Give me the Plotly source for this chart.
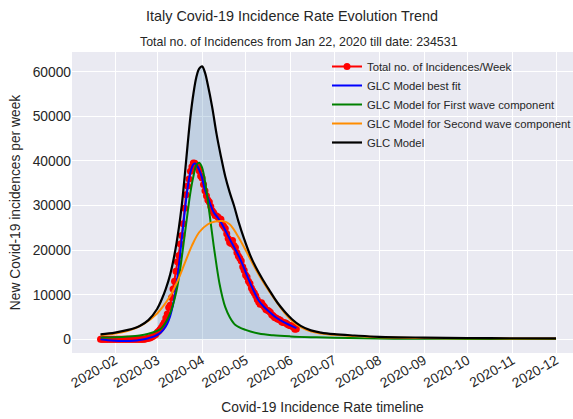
import plotly.graph_objects as go
import pandas as pd

# ---------------- text ----------------
main_title = "Italy Covid-19 Incidence Rate Evolution Trend"
sub_title = "Total no. of Incidences from Jan 22, 2020 till date: 234531"
x_title = "Covid-19 Incidence Rate timeline"
y_title = "New Covid-19 incidences per week"

# ---------------- observed data (weekly incidences, daily from Jan 22) ----------------
data_start = "2020-01-22"
weekly_incidences = [
    0, 0, 0, 0, 0, 0, 0, 0, 0,
    2, 2, 2, 2, 2, 2,
    3,
    1, 1, 1, 1, 1, 1,
    0, 0, 0, 0, 0, 0, 0, 0,
    17, 59, 152, 226, 319, 450, 652, 868, 1066,
    1539, 1807, 2180, 2636, 3203, 3748, 4755, 5681, 7136, 7647, 9373, 11255, 13024, 15274,
    17372, 18808, 21357, 23251, 25922, 29361, 32421, 34391, 35947, 37670, 38673, 39504,
    39477, 38894, 38551, 37812, 36616,
    36188, 34703, 33329, 32160, 31259, 30808, 29794, 28848, 28384, 27750, 27639, 27415,
    26969, 26902, 25733, 25315, 24857, 23654, 22609, 21712, 21469, 22172, 21032, 20560,
    19426, 18703, 18186, 17548, 16264, 15490,
    14434, 13977, 13042, 12524, 11508, 10866, 10395, 9757, 8940, 8353, 7876, 8203, 7647,
    7238, 6700, 6492, 6365, 6072, 5483, 5260, 4910, 4773, 4567, 4423, 4272, 3856, 3775,
    3726, 3590, 3337, 3161,
    3039, 2960, 2697, 2281, 2283,
]
data_dates = pd.date_range(data_start, periods=len(weekly_incidences), freq="D")

# ---------------- GLC model best fit ----------------
fit_dates = ["2020-01-22", "2020-01-27", "2020-02-01", "2020-02-06", "2020-02-11", "2020-02-16",
             "2020-02-20", "2020-02-24", "2020-02-28", "2020-03-02", "2020-03-05", "2020-03-08",
             "2020-03-10", "2020-03-12", "2020-03-14", "2020-03-16", "2020-03-18", "2020-03-20",
             "2020-03-22", "2020-03-24", "2020-03-26", "2020-03-27", "2020-03-28", "2020-03-30",
             "2020-04-01", "2020-04-03", "2020-04-06", "2020-04-09", "2020-04-12", "2020-04-15",
             "2020-04-18", "2020-04-21", "2020-04-24", "2020-04-27", "2020-04-30", "2020-05-03",
             "2020-05-06", "2020-05-10", "2020-05-14", "2020-05-18", "2020-05-22", "2020-05-27",
             "2020-06-01", "2020-06-05"]
fit_values = [0, -200, -330, -390, -370, -250,
              -50, 250, 650, 1150, 2000, 3500,
              5200, 7800, 11500, 16500, 22500, 28500,
              33800, 37500, 39200, 39400, 39200, 38000,
              36200, 33500, 30900, 28500, 27200, 25700,
              23800, 21900, 20100, 18200, 15900, 13500,
              11300, 8700, 7200, 6000, 4900, 3900,
              3100, 2500]

# ---------------- first wave component ----------------
wave1_dates = ["2020-01-22", "2020-02-01", "2020-02-10", "2020-02-18", "2020-02-24", "2020-03-01",
               "2020-03-04", "2020-03-07", "2020-03-10", "2020-03-12", "2020-03-14", "2020-03-16",
               "2020-03-18", "2020-03-20", "2020-03-22", "2020-03-24", "2020-03-26", "2020-03-28",
               "2020-03-30", "2020-04-01", "2020-04-03", "2020-04-05", "2020-04-07", "2020-04-09",
               "2020-04-11", "2020-04-13", "2020-04-15", "2020-04-17", "2020-04-20", "2020-04-24",
               "2020-05-01", "2020-05-10", "2020-05-20", "2020-06-01", "2020-06-15", "2020-07-01",
               "2020-08-01", "2020-09-01", "2020-10-01", "2020-11-01", "2020-12-01"]
wave1_values = [400, 450, 600, 850, 1250, 1900,
                2500, 3800, 5800, 7800, 10300, 13800,
                18300, 23300, 28300, 33000, 36500, 39000,
                39600, 38500, 35500, 31000, 26000, 21000,
                16500, 12500, 9500, 7200, 5000, 3200,
                2100, 1300, 900, 650, 480, 360,
                180, 120, 90, 70, 60]

# ---------------- second wave component ----------------
wave2_dates = ["2020-01-22", "2020-02-01", "2020-02-10", "2020-02-20", "2020-03-01", "2020-03-10",
               "2020-03-15", "2020-03-20", "2020-03-25", "2020-03-30", "2020-04-05", "2020-04-10",
               "2020-04-15", "2020-04-20", "2020-04-25", "2020-05-01", "2020-05-07", "2020-05-14",
               "2020-05-21", "2020-05-28", "2020-06-04", "2020-06-12", "2020-06-20", "2020-07-01",
               "2020-07-15", "2020-08-01", "2020-09-01", "2020-10-01", "2020-11-01", "2020-12-01"]
wave2_values = [900, 1300, 1900, 3300, 5800, 9700,
                13000, 17000, 21000, 24000, 25800, 26400,
                26500, 25800, 23500, 20000, 16300, 12400,
                9000, 5900, 3600, 2100, 1400, 1000,
                720, 470, 300, 235, 185, 155]

# ---------------- GLC model (total) ----------------
glc_dates = ["2020-01-22", "2020-02-01", "2020-02-10", "2020-02-18", "2020-02-24", "2020-03-01",
             "2020-03-04", "2020-03-07", "2020-03-10", "2020-03-13", "2020-03-16", "2020-03-18",
             "2020-03-20", "2020-03-22", "2020-03-24", "2020-03-26", "2020-03-28", "2020-03-30",
             "2020-04-01", "2020-04-03", "2020-04-05", "2020-04-08", "2020-04-11", "2020-04-14",
             "2020-04-17", "2020-04-20", "2020-04-23", "2020-04-26", "2020-04-30", "2020-05-04",
             "2020-05-08", "2020-05-13", "2020-05-18", "2020-05-23", "2020-05-28", "2020-06-02",
             "2020-06-08", "2020-06-15", "2020-06-22", "2020-07-01", "2020-07-15", "2020-08-01",
             "2020-09-01", "2020-10-01", "2020-11-01", "2020-12-01"]
glc_values = [1100, 1500, 2100, 3000, 4300, 6800,
              8800, 11300, 14500, 19000, 25000, 30000,
              36500, 43500, 50000, 55000, 58700, 60700,
              61200, 59800, 57000, 52000, 46000, 41000,
              36500, 33000, 30000, 26500, 22500, 19000,
              16200, 13300, 10700, 8200, 6200, 4500,
              3000, 2000, 1500, 1150, 850, 560,
              380, 290, 230, 200]

fill_start = "2020-03-01"

# ---------------- build figure ----------------
fig = go.Figure()

fill_mask = [pd.Timestamp(d) >= pd.Timestamp(fill_start) for d in glc_dates]
fig.add_trace(go.Scatter(
    x=[d for d, m in zip(glc_dates, fill_mask) if m],
    y=[v for v, m in zip(glc_values, fill_mask) if m],
    mode="lines", line=dict(width=0, shape="spline", smoothing=1),
    fill="tozeroy", fillcolor="rgba(70,130,180,0.25)",
    showlegend=False, hoverinfo="skip"))

fig.add_trace(go.Scatter(
    x=data_dates, y=weekly_incidences, mode="lines+markers",
    name="Total no. of Incidences/Week",
    line=dict(color="#FF0000", width=2),
    marker=dict(color="#FF0000", size=7)))

fig.add_trace(go.Scatter(
    x=fit_dates, y=fit_values, mode="lines", name="GLC Model best fit",
    line=dict(color="#0000FF", width=2, shape="spline", smoothing=1)))

fig.add_trace(go.Scatter(
    x=wave1_dates, y=wave1_values, mode="lines", name="GLC Model for First wave component",
    line=dict(color="#008000", width=2, shape="spline", smoothing=1)))

fig.add_trace(go.Scatter(
    x=wave2_dates, y=wave2_values, mode="lines", name="GLC Model for Second wave component",
    line=dict(color="#FF8C00", width=2, shape="spline", smoothing=1)))

fig.add_trace(go.Scatter(
    x=glc_dates, y=glc_values, mode="lines", name="GLC Model",
    line=dict(color="#000000", width=2.2, shape="spline", smoothing=1)))

font_family = "Liberation Sans, Arial, sans-serif"
text_color = "#262626"

fig.update_layout(
    width=573, height=419,
    margin=dict(l=72, r=0, t=52, b=66, autoexpand=False),
    paper_bgcolor="white", plot_bgcolor="#EAEAF2",
    font=dict(family=font_family, color=text_color, size=13),
    title=dict(text=main_title, x=292 / 573, xanchor="center",
               y=1 - 16 / 419, yanchor="middle", font=dict(size=14.4)),
    legend=dict(x=0.509, y=1.0, xanchor="left", yanchor="top",
                bgcolor="rgba(0,0,0,0)", font=dict(size=11.3)),
    showlegend=True,
)

fig.add_annotation(text=sub_title, xref="paper", yref="paper",
                   x=(299 - 72) / 501, y=(353 - 42) / 301,
                   xanchor="center", yanchor="middle", showarrow=False,
                   font=dict(size=12.4, color=text_color))

fig.update_xaxes(
    type="date", range=["2020-01-02 08:00", "2020-12-12 17:00"],
    tick0="2020-02-01", dtick="M1", tickformat="%Y-%m", tickangle=-30,
    showgrid=True, gridcolor="white", gridwidth=1.3, zeroline=False,
    showline=False, ticks="", tickfont=dict(size=13.8), automargin=False,
    ticklabelstandoff=-4,
    title=dict(text=x_title, font=dict(size=13.8), standoff=12),
)
fig.update_yaxes(
    range=[-3072, 64417], tick0=0, dtick=10000, tickformat="d",
    showgrid=True, gridcolor="white", gridwidth=1.3, zeroline=False,
    showline=False, ticks="", tickfont=dict(size=13.8), automargin=False,
    title=dict(text=y_title, font=dict(size=13.8), standoff=8),
)

fig.write_html("out.html", config={"displayModeBar": False},
               post_script="document.body.style.margin='0px';")
